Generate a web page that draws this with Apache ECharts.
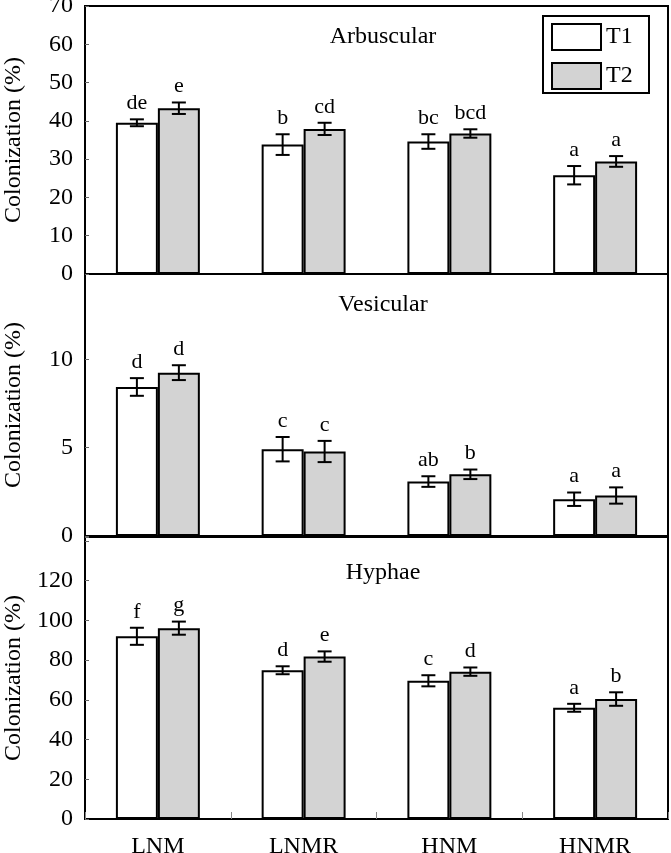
<!DOCTYPE html>
<html>
<head>
<meta charset="utf-8">
<script src="https://cdn.jsdelivr.net/npm/echarts@6/dist/echarts.min.js"></script>
<style>
html,body{margin:0;padding:0;background:#fff;}
#chart{width:671px;height:853px;}
</style>
</head>
<body>
<div id="chart"></div>
<script>
const categories = ['LNM', 'LNMR', 'HNM', 'HNMR'];
const seriesNames = ['T1', 'T2'];
const panelTitles = ['Arbuscular', 'Vesicular', 'Hyphae'];

const arbT1 = [39.5, 33.8, 34.6, 25.8];
const arbT1Err = [0.9, 2.7, 1.9, 2.4];
const arbT2 = [43.3, 37.9, 36.7, 29.4];
const arbT2Err = [1.5, 1.6, 1.1, 1.4];
const arbT1Letters = ['de', 'b', 'bc', 'a'];
const arbT2Letters = ['e', 'cd', 'bcd', 'a'];

const vesT1 = [8.43, 4.91, 3.08, 2.08];
const vesT1Err = [0.5, 0.69, 0.3, 0.38];
const vesT2 = [9.24, 4.78, 3.49, 2.29];
const vesT2Err = [0.42, 0.6, 0.27, 0.46];
const vesT1Letters = ['d', 'c', 'ab', 'a'];
const vesT2Letters = ['d', 'c', 'b', 'a'];

const hypT1 = [92.0, 74.9, 69.6, 56.0];
const hypT1Err = [4.3, 2.0, 2.8, 2.0];
const hypT2 = [96.1, 81.8, 74.2, 60.4];
const hypT2Err = [3.3, 2.6, 2.1, 3.4];
const hypT1Letters = ['f', 'd', 'c', 'a'];
const hypT2Letters = ['g', 'e', 'd', 'b'];

const arbTicks = [0, 10, 20, 30, 40, 50, 60, 70];
const vesTicks = [0, 5, 10];
const hypTicks = [0, 20, 40, 60, 80, 100, 120];

const panels = [
  {title: panelTitles[0], t1: arbT1, t1e: arbT1Err, t2: arbT2, t2e: arbT2Err, l1: arbT1Letters, l2: arbT2Letters, ticks: arbTicks, max: 70, interval: 10, top: 6, height: 268, titleTop: 20},
  {title: panelTitles[1], t1: vesT1, t1e: vesT1Err, t2: vesT2, t2e: vesT2Err, l1: vesT1Letters, l2: vesT2Letters, ticks: vesTicks, max: 14.82, interval: 5, top: 274, height: 262, titleTop: 288},
  {title: panelTitles[2], t1: hypT1, t1e: hypT1Err, t2: hypT2, t2e: hypT2Err, l1: hypT1Letters, l2: hypT2Letters, ticks: hypTicks, max: 142, interval: 20, top: 537, height: 282, titleTop: 556}
];

const FONT = '"Liberation Serif", "Times New Roman", serif';
const BARFRAC = 0.288;
const GREY = '#d3d3d3';

const grids = [], xAxes = [], yAxes = [], series = [], titles = [];

panels.forEach((p, i) => {
  grids.push({left: 85, right: 3, top: p.top, height: p.height, show: true, borderColor: '#000', borderWidth: 2,
    backgroundColor: 'transparent', containLabel: false, outerBoundsMode: 'none'});
  const isBottom = i === panels.length - 1;
  xAxes.push({
    type: 'category', gridIndex: i, data: categories,
    axisLine: {show: true, lineStyle: {color: '#000', width: 2}},
    axisTick: {show: isBottom, inside: true, length: 7, lineStyle: {color: '#888', width: 1}},
    axisLabel: {show: isBottom, color: '#000', fontFamily: FONT, fontSize: 24, margin: 16}
  });
  yAxes.push({
    type: 'value', gridIndex: i, min: 0, max: p.max, interval: p.interval,
    name: 'Colonization (%)', nameLocation: 'middle', nameRotate: 90, nameGap: 59,
    nameMoveOverlap: false,
    nameTextStyle: {color: '#000', fontFamily: FONT, fontSize: 24},
    splitLine: {show: false},
    axisLine: {show: true, lineStyle: {color: '#000', width: 2}},
    axisTick: {show: true, inside: true, length: 4, lineStyle: {color: '#666', width: 1}},
    axisLabel: {color: '#000', fontFamily: FONT, fontSize: 24, margin: 12,
      formatter: v => (p.ticks.indexOf(Math.round(v * 1000) / 1000) >= 0 ? String(v) : '')}
  });
  titles.push({text: p.title, left: 378, top: p.titleTop, textAlign: 'center',
    textStyle: {fontFamily: FONT, fontSize: 24, fontWeight: 'normal', color: '#000'}});

  const defs = [
    {name: seriesNames[0], vals: p.t1, errs: p.t1e, letters: p.l1, color: '#fff', sign: -1},
    {name: seriesNames[1], vals: p.t2, errs: p.t2e, letters: p.l2, color: GREY, sign: 1}
  ];
  defs.forEach(d => {
    series.push({
      type: 'bar', name: d.name, xAxisIndex: i, yAxisIndex: i,
      data: d.vals, barWidth: (BARFRAC * 100) + '%', barGap: '0%',
      itemStyle: {color: d.color, borderColor: '#000', borderWidth: 2},
      emphasis: {disabled: true}, z: 2
    });
    const errData = d.vals.map((v, k) => [k, v, d.errs[k]]);
    series.push({
      type: 'custom', name: d.name + ' error', xAxisIndex: i, yAxisIndex: i,
      data: errData, z: 5, silent: true,
      encode: {x: 0, y: 1},
      renderItem: (params, api) => {
        const k = api.value(0), v = api.value(1), e = api.value(2);
        const band = api.size([1, 0])[0];
        const off = d.sign * band * BARFRAC / 2;
        const x = api.coord([k, v])[0] + off;
        const yTop = api.coord([k, v + e])[1];
        const yBot = api.coord([k, v - e])[1];
        const cap = 7;
        const st = {stroke: '#000', lineWidth: 2};
        return {
          type: 'group',
          children: [
            {type: 'line', shape: {x1: x, y1: yTop, x2: x, y2: yBot}, style: st},
            {type: 'line', shape: {x1: x - cap, y1: yTop, x2: x + cap, y2: yTop}, style: st},
            {type: 'line', shape: {x1: x - cap, y1: yBot, x2: x + cap, y2: yBot}, style: st},
            {type: 'text', x: x, y: yTop - 5, style: {text: d.letters[params.dataIndex], fill: '#000',
              font: '22px ' + FONT, textAlign: 'center', textVerticalAlign: 'bottom'}}
          ]
        };
      }
    });
  });
});

const chart = echarts.init(document.getElementById('chart'), null, {renderer: 'canvas'});
chart.setOption({
  backgroundColor: '#fff',
  animation: false,
  title: titles,
  graphic: [{
    type: 'rect', left: 542, top: 15, z: 10,
    shape: {width: 106, height: 77},
    style: {fill: '#fff', stroke: '#000', lineWidth: 2}
  }],
  legend: {
    data: seriesNames, orient: 'vertical', left: 542, top: 15, z: 20,
    itemWidth: 49, itemHeight: 26, itemGap: 11, itemTextGap: 8, padding: [8, 8, 5, 9],
    borderWidth: 0, backgroundColor: 'transparent',
    icon: 'rect',
    textStyle: {fontFamily: FONT, fontSize: 24, color: '#000'},
    selectedMode: false
  },
  grid: grids, xAxis: xAxes, yAxis: yAxes, series: series
});
</script>
</body>
</html>
